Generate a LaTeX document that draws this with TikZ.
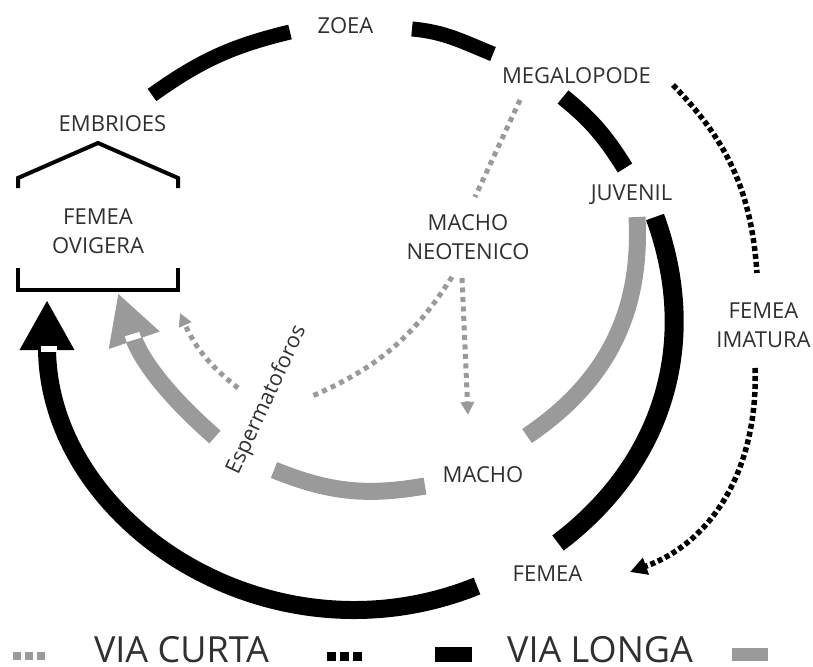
\documentclass[tikz,border=0pt]{standalone}
\usepackage{fontspec}
\setmainfont{Open Sans}
\usetikzlibrary{arrows.meta}

\definecolor{viagray}{HTML}{9A9A9A}
\definecolor{labelink}{HTML}{303030}

\begin{document}
\begin{tikzpicture}[
    x=1pt, y=1pt,
    stage/.style={font=\fontsize{22}{29}\selectfont, text=labelink, align=center, inner sep=0pt},
    legend text/.style={font=\fontsize{36}{40}\selectfont, text=labelink, inner sep=0pt},
    longa line/.style={line width=17pt, black},
    curta line/.style={line width=17pt, viagray},
    gray dots/.style={viagray, line width=5pt, dash pattern=on 5pt off 4.5pt},
    black dots/.style={black, line width=5.5pt, dash pattern=on 5pt off 3pt},
    bracket/.style={line width=4pt, line join=miter},
    notch/.style={white, line width=6pt}
]
    \useasboundingbox (0,0) rectangle (813,-666);

    % Stages
    \node[stage] (zoea) at (345.5,-26) {ZOEA};
    \node[stage] (megalopode) at (576.5,-75.5) {MEGALOPODE};
    \node[stage] (embrioes) at (112.5,-124) {EMBRIOES};
    \node[stage] (ovigera) at (98,-231) {FEMEA\\OVIGERA};
    \node[stage] (juvenil) at (631.5,-195) {JUVENIL};
    \node[stage] (neotenico) at (468,-237) {MACHO\\NEOTENICO};
    \node[stage] (imatura) at (763.5,-325) {FEMEA\\IMATURA};
    \node[stage] (macho) at (483,-475) {MACHO};
    \node[stage] (femea) at (547.5,-573.5) {FEMEA};
    \node[stage, rotate=65, font=\fontsize{21.5}{25}\selectfont] (esperm) at (267,-400) {Espermatoforos};

    % Ovigera brackets
    \draw[bracket] (18,-188) -- (18,-178) -- (98,-143) -- (178,-178) -- (178,-188);
    \draw[bracket] (18,-268) -- (18,-290) -- (178,-290) -- (178,-268);

    % Ends of the arcs
    \coordinate (embrioes-out) at (152,-95);
    \coordinate (zoea-in) at (290,-32);
    \coordinate (zoea-out) at (412,-29);
    \coordinate (megalopode-in) at (493,-54);
    \coordinate (megalopode-out) at (563,-97);
    \coordinate (juvenil-in) at (625,-168);
    \coordinate (juvenil-out) at (655,-217);
    \coordinate (femea-in) at (558,-543);
    \coordinate (femea-out) at (477,-586);
    \coordinate (ovigera-long) at (47,-300);

    \coordinate (juvenil-gray) at (637,-217);
    \coordinate (macho-in) at (527,-436);
    \coordinate (macho-out) at (425,-486);
    \coordinate (esperm-in) at (274,-470);
    \coordinate (esperm-out) at (215,-437);
    \coordinate (ovigera-short) at (118,-293);

    % Via curta (gray)
    \draw[curta line] (juvenil-gray) to[out=-87, in=34] (macho-in);
    \draw[curta line] (macho-out) to[bend left=16] (esperm-in);
    \draw[curta line, -{Triangle[width=50pt, length=50pt]}] (esperm-out) to[bend left=15] (ovigera-short);
    \draw[notch] (125.8,-339.2) -- (140.2,-334.8);

    % Via longa (black)
    \draw[longa line, line width=15pt] (embrioes-out) to[bend left=11] (zoea-in);
    \draw[longa line, line width=15pt] (zoea-out) to[out=-5, in=158] (megalopode-in);
    \draw[longa line] (megalopode-out) to[out=-39, in=122] (juvenil-in);
    \draw[longa line, line width=19pt] (juvenil-out) to[out=-70, in=37] (femea-in);
    \draw[longa line, line width=18pt, -{Triangle[width=51pt, length=50pt]}] (femea-out) to[out=-158, in=-90, looseness=1.1] (ovigera-long);
    \draw[notch] (40.5,-348.5) -- (56.5,-348.5);

    % Dotted paths
    \coordinate (megalopode-sw) at (520,-100);
    \coordinate (neotenico-n) at (475,-197);
    \coordinate (neotenico-sw) at (452,-277);
    \coordinate (esperm-dots) at (310,-397);
    \coordinate (neotenico-s) at (462,-278);
    \coordinate (macho-tip) at (468,-415);
    \coordinate (esperm-back) at (238,-388);
    \coordinate (ovigera-dots) at (180,-313);
    \coordinate (megalopode-e) at (673,-85);
    \coordinate (imatura-n) at (757,-273);
    \coordinate (imatura-s) at (755,-368);
    \coordinate (femea-dots) at (630,-572);

    \draw[gray dots] (megalopode-sw) -- (neotenico-n);
    \draw[gray dots] (neotenico-sw) to[bend left=17] (esperm-dots);
    \draw[gray dots, -{Triangle[width=13pt, length=13pt]}] (neotenico-s) -- (macho-tip);
    \draw[gray dots, -{Triangle[width=13pt, length=13pt]}] (esperm-back) to[bend left=14] (ovigera-dots);

    \draw[black dots] (megalopode-e) to[bend left=20] (imatura-n);
    \draw[black dots, -{Triangle[width=17pt, length=17pt]}] (imatura-s) to[out=-88, in=20] (femea-dots);

    % Legend
    \foreach \i in {0,1,2}
        \fill[viagray] ({13+\i*12},-652) rectangle ++(8,-8);
    \node[legend text] (curta) at (181.5,-650) {VIA CURTA};
    \foreach \i in {0,1,2}
        \fill[black] ({327+\i*13},-652) rectangle ++(9,-9);
    \fill[black] (435,-647) rectangle (472,-662);
    \node[legend text] (longa) at (600,-650) {VIA LONGA};
    \fill[viagray] (732,-648) rectangle (768,-661);

\end{tikzpicture}
\end{document}
